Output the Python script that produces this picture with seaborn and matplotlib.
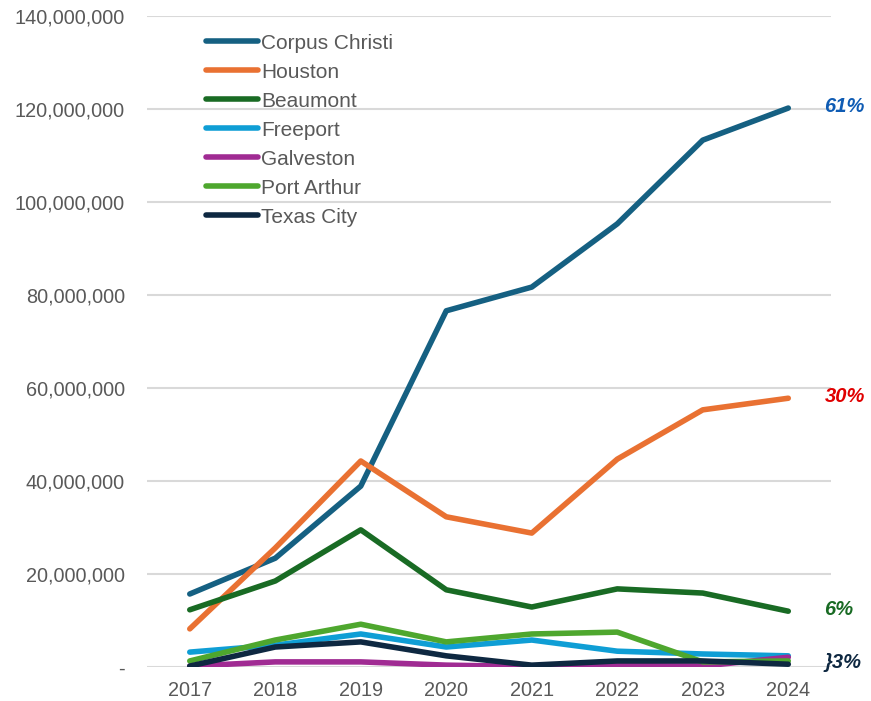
import pandas as pd
import numpy as np
import matplotlib
matplotlib.use('Agg')
import matplotlib.pyplot as plt
import seaborn as sns
from matplotlib.ticker import FuncFormatter

# Values (millions)
years = [2017, 2018, 2019, 2020, 2021, 2022, 2023, 2024]
corpus_christi = [15.7, 23.4, 38.9, 76.6, 81.7, 95.3, 113.3, 120.2]
houston = [8.2, 25.6, 44.3, 32.3, 28.8, 44.7, 55.3, 57.8]
beaumont = [12.3, 18.5, 29.5, 16.6, 12.9, 16.8, 15.9, 12.0]
freeport = [3.2, 4.7, 7.1, 4.3, 5.8, 3.4, 2.8, 2.4]
galveston = [0.2, 1.1, 1.1, 0.4, 0.1, 0.3, 0.2, 2.1]
port_arthur = [1.3, 5.8, 9.2, 5.4, 7.1, 7.5, 1.1, 1.3]
texas_city = [0.2, 4.3, 5.4, 2.4, 0.4, 1.3, 1.3, 0.6]

ports = ['Corpus Christi', 'Houston', 'Beaumont', 'Freeport', 'Galveston', 'Port Arthur', 'Texas City']
series = [corpus_christi, houston, beaumont, freeport, galveston, port_arthur, texas_city]
colors = ['#156082', '#E97132', '#196B24', '#0F9ED5', '#A02B93', '#4EA72E', '#0E2841']

share_labels = ['61%', '30%', '6%', '}3%']
share_values = [corpus_christi[-1], houston[-1], beaumont[-1], texas_city[-1]]
share_colors = ['#0F5CB4', '#E00000', '#196B24', '#0E2841']

rows = []
for name, vals in zip(ports, series):
    for yr, v in zip(years, vals):
        rows.append({'Year': yr, 'Port': name, 'Value': v * 1e6})
data = pd.DataFrame(rows)

sns.set_style('white')
plt.rcParams['font.family'] = ['Liberation Sans', 'DejaVu Sans']

fig = plt.figure(figsize=(8.71, 7.01), dpi=100)
ax = fig.add_axes([0.1688, 0.0485, 0.7853, 0.9287])

sns.lineplot(data=data, x='Year', y='Value', hue='Port', hue_order=ports,
             palette=colors, linewidth=4, ax=ax, zorder=3)

ax.set_xlim(2016.5, 2024.5)
ax.set_ylim(0, 140e6)
ax.set_xticks(years)
ax.set_yticks(np.arange(0, 140e6 + 1, 20e6))
ax.yaxis.set_major_formatter(FuncFormatter(lambda v, p: '-' if v == 0 else f'{v:,.0f}'))
ax.grid(axis='y', color='#D9D9D9', linewidth=1.5, zorder=0)
ax.set_axisbelow(True)
for s in ax.spines.values():
    s.set_visible(False)
ax.tick_params(axis='both', length=0, labelsize=14.3, labelcolor='#595959')
ax.tick_params(axis='x', pad=10)
ax.tick_params(axis='y', pad=16)
ax.set_xlabel('')
ax.set_ylabel('')

for lab, v, c in zip(share_labels, share_values, share_colors):
    ax.annotate(lab, xy=(2024, v * 1e6), xytext=(26, 1), textcoords='offset points',
                ha='left', va='center', fontsize=14.5, fontweight='bold',
                fontstyle='italic', color=c, annotation_clip=False)

leg = ax.legend(loc='upper left', bbox_to_anchor=(0.068, 0.992), frameon=False,
                fontsize=15, handlelength=2.5, handletextpad=0.15, labelspacing=0.48,
                labelcolor='#595959', borderaxespad=0.2)
for line in leg.get_lines():
    line.set_linewidth(4)
    line.set_solid_capstyle('round')

fig.savefig('out.png', dpi=100)
